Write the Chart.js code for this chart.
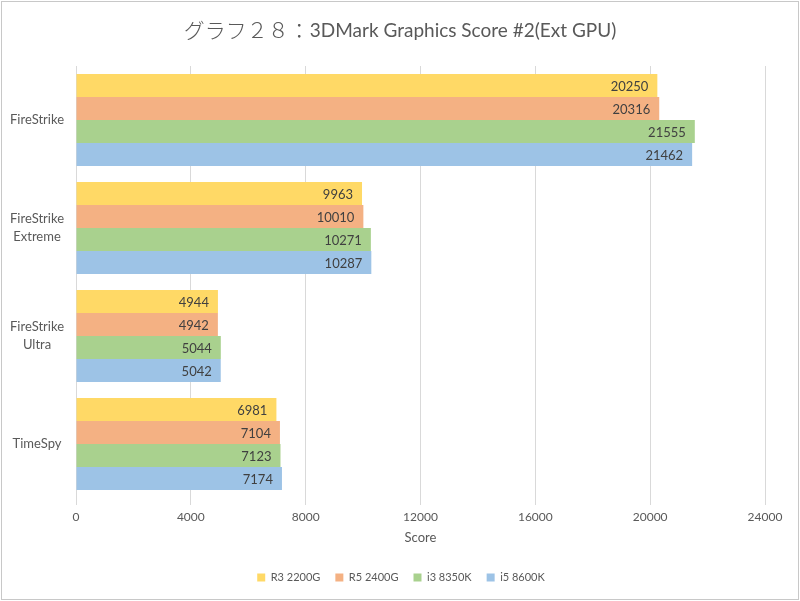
<!DOCTYPE html>
<html>
<head>
<meta charset="utf-8">
<script src="https://cdn.jsdelivr.net/npm/chart.js@4/dist/chart.umd.min.js"></script>
<style>
html,body{margin:0;padding:0;background:#fff;}
canvas{display:block;}
</style>
</head>
<body>
<canvas id="c" width="800" height="601"></canvas>
<script>
const categories = ['FireStrike', ['FireStrike', 'Extreme'], ['FireStrike', 'Ultra'], 'TimeSpy'];
const seriesNames = ['R3 2200G', 'R5 2400G', 'i3 8350K', 'i5 8600K'];
const r3_2200g = [20250, 9963, 4944, 6981];
const r5_2400g = [20316, 10010, 4942, 7104];
const i3_8350k = [21555, 10271, 5044, 7123];
const i5_8600k = [21462, 10287, 5042, 7174];
const xTicks = [0, 4000, 8000, 12000, 16000, 20000, 24000];
const titleJa = 'グラフ２８：';
const titleEn = '3DMark Graphics Score #2(Ext GPU)';
const axisTitle = 'Score';

const colors = ['#FFD966', '#F4B183', '#A9D18E', '#9DC3E6'];
const FONT = "Lato, 'Noto Sans CJK JP', sans-serif";
const JFONT = "'Noto Sans CJK JP', sans-serif";
const TXT = '#595959';

const labelPlugin = {
  id: 'barLabels',
  afterDatasetsDraw(chart) {
    const ctx = chart.ctx;
    ctx.save();
    ctx.font = "13px " + FONT;
    ctx.fillStyle = '#404040';
    ctx.textAlign = 'right';
    ctx.textBaseline = 'middle';
    chart.data.datasets.forEach((ds, i) => {
      const meta = chart.getDatasetMeta(i);
      meta.data.forEach((bar, j) => {
        ctx.fillText(String(ds.data[j]), bar.x - 9, bar.y + 1);
      });
    });
    ctx.restore();
  }
};
const titlePlugin = {
  id: 'mixedTitle',
  afterDraw(chart) {
    const ctx = chart.ctx;
    ctx.save();
    ctx.fillStyle = TXT;
    ctx.textBaseline = 'middle';
    ctx.textAlign = 'left';
    const jf = "300 21px " + JFONT;
    const ef = "19px " + FONT;
    ctx.font = jf; const wj = ctx.measureText(titleJa).width;
    ctx.font = ef; const we = ctx.measureText(titleEn).width;
    let x = 400 - (wj + we) / 2;
    ctx.font = jf; ctx.fillText(titleJa, x, 30);
    ctx.font = ef; ctx.fillText(titleEn, x + wj, 31);
    ctx.restore();
  }
};
const legendShift = {
  id: 'legendShift',
  beforeDraw(chart) {
    const lg = chart.legend;
    if (lg) { lg.left = 18; lg.right = 784; lg.top = 557; lg.bottom = 599; }
  }
};
const borderPlugin = {
  id: 'outerBorder',
  afterDraw(chart) {
    const ctx = chart.ctx;
    ctx.save();
    ctx.strokeStyle = '#C8C8C8';
    ctx.lineWidth = 1;
    ctx.strokeRect(1.5, 1.5, 797, 598);
    ctx.restore();
  }
};

const seriesData = [r3_2200g, r5_2400g, i3_8350k, i5_8600k];
new Chart(document.getElementById('c'), {
  type: 'bar',
  data: {
    labels: categories,
    datasets: seriesNames.map((n, i) => ({
      label: n,
      data: seriesData[i],
      backgroundColor: colors[i],
      borderWidth: 0,
      categoryPercentage: 0.85,
      barPercentage: 1.0
    }))
  },
  options: {
    indexAxis: 'y',
    responsive: false,
    devicePixelRatio: 1,
    animation: false,
    layout: { padding: { left: 0, right: 35, top: 66, bottom: 7 } },
    plugins: {
      title: { display: false },
      legend: {
        position: 'bottom',
        maxHeight: 32,
        labels: {
          boxWidth: 8, boxHeight: 8,
          color: TXT,
          font: { family: FONT, size: 11 },
          padding: 15
        }
      },
      tooltip: { enabled: false }
    },
    scales: {
      x: {
        type: 'linear',
        min: 0, max: 24000,
        afterBuildTicks(scale) { scale.ticks = xTicks.map(v => ({ value: v })); },
        afterFit(scale) { scale.height = 64; },
        grid: { color: '#D9D9D9', lineWidth: 1, drawTicks: true, tickLength: 7 },
        border: { display: false },
        ticks: {
          color: TXT, font: { family: FONT, size: 12 }, padding: 5, maxRotation: 0,
          callback: (v) => String(v)
        },
        title: {
          display: true, text: axisTitle, color: TXT,
          font: { family: FONT, size: 13 },
          padding: { top: 4, bottom: 16 }
        }
      },
      y: {
        type: 'category',
        afterFit(scale) { scale.width = 76; },
        grid: { display: false, drawTicks: false },
        border: { display: false },
        ticks: {
          color: TXT, crossAlign: 'center', padding: 12,
          font: { family: FONT, size: 13, lineHeight: 1.4 }
        }
      }
    }
  },
  plugins: [labelPlugin, titlePlugin, legendShift, borderPlugin]
});
</script>
</body>
</html>
